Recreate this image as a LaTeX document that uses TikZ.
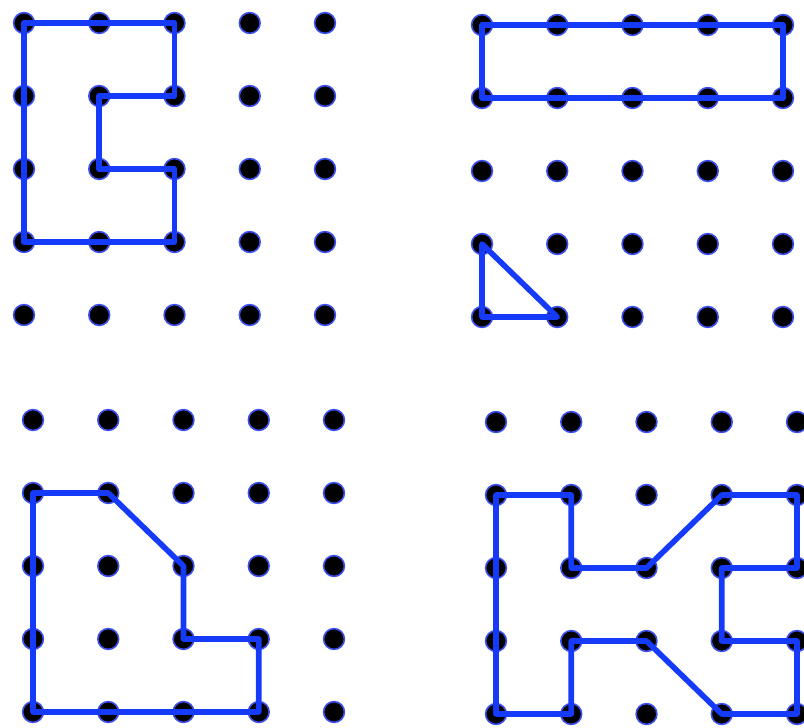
\documentclass[tikz,border=0pt]{standalone}
\usepackage{tikz}
\usetikzlibrary{calc}
\definecolor{lineblue}{RGB}{22,58,250}
\definecolor{haloblue}{RGB}{60,80,240}

\begin{document}
\begin{tikzpicture}[x=0.25mm,y=-0.25mm]
    \edef\gapx{75.25}
    \edef\gapy{73}
    \tikzstyle{gdot}=[fill=black,draw=haloblue,line width=0.4mm]
    \tikzstyle{gline}=[draw=lineblue,line width=1.4mm,line join=round]

    \useasboundingbox (0,0) rectangle (804,728);
    \clip (0,0) rectangle (804,728);

    % four 5x5 grids of pegs
    \foreach \g/\ox/\oy in {a/24/23,b/482/25,c/33/420,d/496/422} {
        \foreach \i in {0,...,4} {
            \foreach \j in {0,...,4} {
                \coordinate (\g\i\j) at (\ox+\i*\gapx,\oy+\j*\gapy);
                \draw[gdot] (\g\i\j) circle (2.6mm);
            }
        }
    }

    % top left
    \draw[gline] (a00) -- (a20) -- (a21) -- (a11) -- (a12) -- (a22) -- (a23)
        -- (a03) -- cycle;

    % top right
    \draw[gline] (b00) -- (b40) -- (b41) -- (b01) -- cycle;
    \draw[gline] (b03) -- (b14) -- (b04) -- cycle;

    % bottom left
    \draw[gline] (c01) -- (c11) -- (c22) -- (c23) -- (c33) -- (c34) -- (c04)
        -- cycle;

    % bottom right
    \draw[gline] (d01) -- (d11) -- (d12) -- (d22) -- (d31) -- (d41) -- (d42)
        -- (d32) -- (d33) -- (d43) -- (d44) -- (d34) -- (d23) -- (d13)
        -- (d14) -- (d04) -- cycle;
\end{tikzpicture}
\end{document}
